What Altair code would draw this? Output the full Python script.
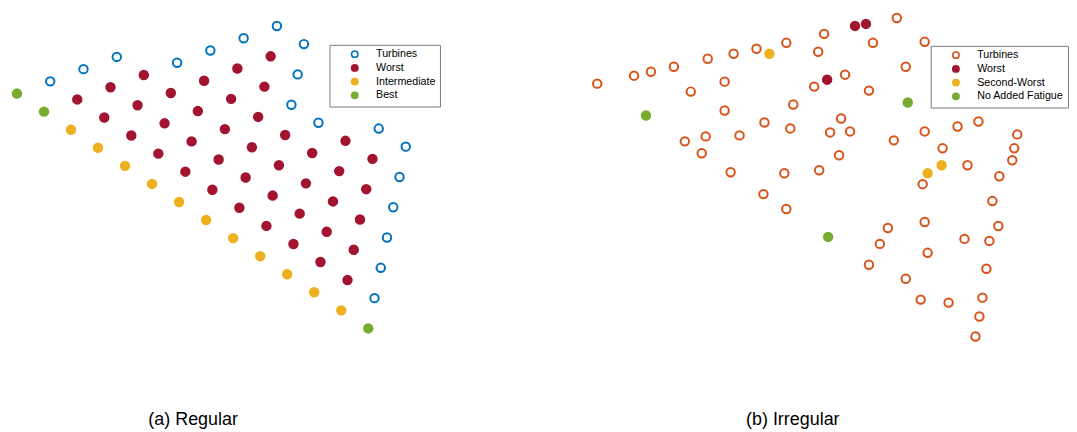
import altair as alt
import pandas as pd

FONT = "Liberation Sans"

# ---------------- (a) Regular layout: lattice indices (i = down-right row, j = up-right column)
reg_turbines_i = [0, 0, 0, 1, 1, 1, 1, 2, 3, 4, 5, 6, 7, 8, 9, 10, 11, 12]
reg_turbines_j = [1, 2, 3, 4, 5, 6, 7, 7, 6, 5, 5, 6, 6, 5, 4, 3, 2, 1]
reg_worst_i = [1, 1, 1, 2, 2, 2, 2, 2, 2, 3, 3, 3, 3, 3, 4, 4, 4, 4, 5, 5, 5, 5,
               6, 6, 6, 6, 6, 7, 7, 7, 7, 7, 8, 8, 8, 8, 9, 9, 9, 10, 10, 11]
reg_worst_j = [1, 2, 3, 1, 2, 3, 4, 5, 6, 1, 2, 3, 4, 5, 1, 2, 3, 4, 1, 2, 3, 4,
               1, 2, 3, 4, 5, 1, 2, 3, 4, 5, 1, 2, 3, 4, 1, 2, 3, 1, 2, 1]
reg_inter_i = [2, 3, 4, 5, 6, 7, 8, 9, 10, 11, 12]
reg_inter_j = [0, 0, 0, 0, 0, 0, 0, 0, 0, 0, 0]
reg_best_i = [0, 1, 13]
reg_best_j = [0, 0, 0]
# lattice spacing (data units) along i and j
step_i = (27.15, -18.15)
step_j = (33.43, 12.29)

# ---------------- (b) Irregular layout (easting, northing in data units)
irr_turbines_x = [17, 54, 71, 94, 128, 154, 177, 207, 245, 318, 294, 346, 239, 327, 266,
                  235, 290, 145, 111, 145, 214, 185, 211, 262, 251, 271, 105, 126, 160,
                  122, 151, 205, 240, 260, 315, 346, 379, 400, 439, 364, 436, 389, 434,
                  421, 344, 414, 184, 207, 346, 309, 420, 301, 386, 411, 349, 290, 408,
                  327, 342, 370, 404, 401, 397]
irr_turbines_y = [268, 276, 280, 285, 293, 298, 303, 309, 318, 334, 309, 310, 300, 285, 277,
                  265, 261, 270, 260, 241, 247, 229, 223, 233, 219, 220, 210, 215, 216,
                  198, 179, 178, 181, 196, 211, 220, 225, 230, 217, 203, 203, 186, 191,
                  175, 167, 150, 157, 142, 129, 123, 125, 107, 112, 110, 98, 86, 82,
                  72, 51, 48, 53, 34, 14]
irr_worst_x = [276, 287, 248]
irr_worst_y = [326, 328, 272]
irr_second_x = [190, 363, 349]
irr_second_y = [298, 186, 178]
irr_nofat_x = [66, 329, 249]
irr_nofat_y = [236, 249, 114]

rows = []
for cat, ii, jj in [("Turbines", reg_turbines_i, reg_turbines_j),
                    ("Worst", reg_worst_i, reg_worst_j),
                    ("Intermediate", reg_inter_i, reg_inter_j),
                    ("Best", reg_best_i, reg_best_j)]:
    for i, j in zip(ii, jj):
        rows.append({"cat": cat,
                     "x": i * step_i[0] + j * step_j[0],
                     "y": i * step_i[1] + j * step_j[1]})
df_a = pd.DataFrame(rows)

rows = []
for cat, xs, ys in [("Turbines", irr_turbines_x, irr_turbines_y),
                    ("Worst", irr_worst_x, irr_worst_y),
                    ("Second-Worst", irr_second_x, irr_second_y),
                    ("No Added Fatigue", irr_nofat_x, irr_nofat_y)]:
    for x, y in zip(xs, ys):
        rows.append({"cat": cat, "x": x, "y": y})
df_b = pd.DataFrame(rows)

cats_a = ["Turbines", "Worst", "Intermediate", "Best"]
stroke_a = ["#0072BD", "#A2142F", "#EDB120", "#77AC30"]
fill_a = ["#ffffff", "#A2142F", "#EDB120", "#77AC30"]
cats_b = ["Turbines", "Worst", "Second-Worst", "No Added Fatigue"]
stroke_b = ["#D95319", "#A2142F", "#EDB120", "#77AC30"]
fill_b = ["#ffffff", "#A2142F", "#EDB120", "#77AC30"]

W1, W2, H = 560, 500, 395


def panel(df, cats, strokes, fills, xdom, ydom, W, lx, ly, caption, dx):
    legend = alt.Legend(title=None, orient="none", legendX=lx, legendY=ly,
                        padding=4, symbolOffset=16, labelOffset=16, rowPadding=0.8,
                        labelFont=FONT, labelFontSize=10.75, labelColor="#000000",
                        symbolType="circle", symbolSize=40, symbolStrokeWidth=1.6,
                        symbolOpacity=1, strokeColor="#7a7a7a", fillColor="#ffffff",
                        cornerRadius=0)
    return alt.Chart(df).mark_point(filled=False, size=72, strokeWidth=2, opacity=1).encode(
        x=alt.X("x:Q", scale=alt.Scale(domain=xdom, nice=False, zero=False), axis=None),
        y=alt.Y("y:Q", scale=alt.Scale(domain=ydom, nice=False, zero=False), axis=None),
        stroke=alt.Stroke("cat:N", scale=alt.Scale(domain=cats, range=strokes), legend=legend),
        fill=alt.Fill("cat:N", scale=alt.Scale(domain=cats, range=fills), legend=legend),
    ).properties(
        width=W, height=H,
        title=alt.TitleParams(caption, orient="bottom", anchor="middle", frame="group",
                              dx=dx, offset=22, fontSize=18, font=FONT,
                              fontWeight="normal", color="#000000", baseline="alphabetic"))


left = panel(df_a, cats_a, stroke_a, fill_a, [-6, W1 - 6], [84 - H, 84], W1,
             320, 35, "(a) Regular", -97)
right = panel(df_b, cats_b, stroke_b, fill_b, [-12, W2 - 12], [342 - H, 342], W2,
              364, 36, "(b) Irregular", -24.5)

chart = alt.hconcat(left, right, spacing=0).resolve_scale(
    x="independent", y="independent", stroke="independent", fill="independent"
).properties(padding=0).configure_view(strokeWidth=0)

chart.save("out.html", embed_options={"renderer": "svg", "actions": False})
